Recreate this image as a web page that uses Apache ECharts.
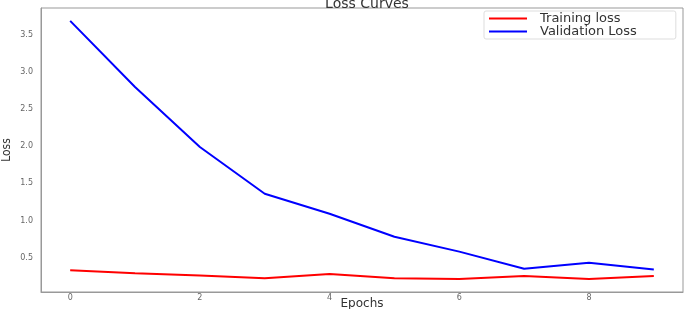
<!DOCTYPE html>
<html>
<head>
<meta charset="utf-8">
<script src="https://cdn.jsdelivr.net/npm/echarts@6/dist/echarts.min.js"></script>
<style>
  html, body { margin: 0; padding: 0; background: #fff; }
  #chart { width: 685px; height: 309px; }
</style>
</head>
<body>
<div id="chart"></div>
<script>
const epochs = [0, 1, 2, 3, 4, 5, 6, 7, 8, 9];
const trainingLoss = [0.33, 0.29, 0.26, 0.22, 0.28, 0.22, 0.21, 0.25, 0.21, 0.25];
const validationLoss = [3.69, 2.80, 1.99, 1.36, 1.09, 0.78, 0.58, 0.35, 0.43, 0.34];
const xTicks = [0, 2, 4, 6, 8];
const yTicks = [0.5, 1.0, 1.5, 2.0, 2.5, 3.0, 3.5];

const myChart = echarts.init(document.getElementById('chart'));

const pair = (ys) => epochs.map((e, i) => [e, ys[i]]);

const option = {
  animation: false,
  title: {
    text: 'Loss Curves',
    left: 362,
    textAlign: 'center',
    top: -8,
    textStyle: { fontFamily: 'DejaVu Sans', fontSize: 14, fontWeight: 'normal', color: '#333' }
  },
  legend: {
    left: 484,
    top: 11,
    orient: 'vertical',
    itemGap: 0,
    itemWidth: 38,
    itemHeight: 2,
    padding: [1, 39, 1, 5],
    borderColor: '#ddd',
    borderWidth: 1,
    borderRadius: 2,
    icon: 'rect',
    textStyle: { fontFamily: 'DejaVu Sans', fontSize: 13, color: '#333', padding: [0, 0, 0, 8] },
    data: ['Training loss', 'Validation Loss']
  },
  grid: {
    left: 41,
    right: 2,
    top: 8,
    bottom: 17,
    outerBoundsMode: 'none',
    containLabel: false,
    show: true,
    borderColor: '#999',
    borderWidth: 1
  },
  xAxis: {
    type: 'value',
    min: -0.45,
    max: 9.45,
    name: 'Epochs',
    nameLocation: 'middle',
    nameGap: 6,
    nameMoveOverlap: false,
    nameTextStyle: { fontFamily: 'DejaVu Sans', fontSize: 12, color: '#333', verticalAlign: 'top' },
    splitLine: { show: false },
    axisLine: { onZero: false, lineStyle: { color: '#999' } },
    axisTick: { show: false, customValues: xTicks },
    axisLabel: {
      customValues: xTicks,
      fontSize: 8,
      color: '#666',
      margin: 2,
      fontFamily: 'DejaVu Sans'
    }
  },
  yAxis: {
    type: 'value',
    min: 0.036,
    max: 3.864,
    name: 'Loss',
    nameLocation: 'middle',
    nameGap: 28,
    nameMoveOverlap: false,
    nameTextStyle: { fontFamily: 'DejaVu Sans Condensed, Liberation Sans Narrow, sans-serif', fontSize: 12, color: '#333' },
    splitLine: { show: false },
    axisLine: { show: true, onZero: false, lineStyle: { color: '#999' } },
    axisTick: { show: false, customValues: yTicks },
    axisLabel: {
      customValues: yTicks,
      formatter: (v) => v.toFixed(1),
      fontSize: 8,
      color: '#666',
      margin: 8,
      fontFamily: 'DejaVu Sans'
    }
  },
  series: [
    {
      name: 'Training loss',
      type: 'line',
      data: pair(trainingLoss),
      showSymbol: false,
      lineStyle: { color: '#ff0000', width: 2 },
      itemStyle: { color: '#ff0000' }
    },
    {
      name: 'Validation Loss',
      type: 'line',
      data: pair(validationLoss),
      showSymbol: false,
      lineStyle: { color: '#0000ff', width: 2 },
      itemStyle: { color: '#0000ff' }
    }
  ]
};
option && myChart.setOption(option);
</script>
</body>
</html>
